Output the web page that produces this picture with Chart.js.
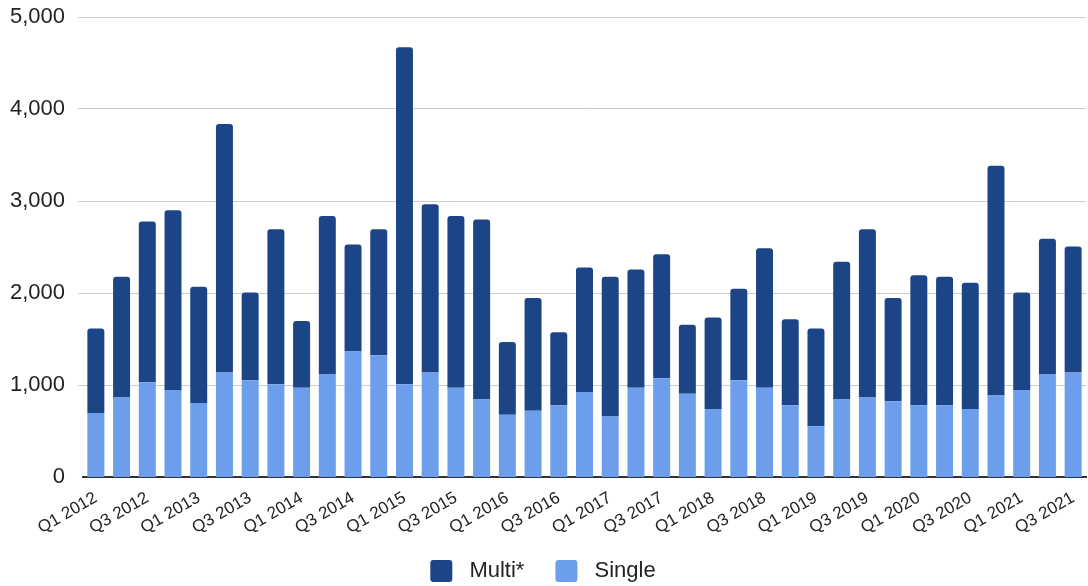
<!DOCTYPE html>
<html>
<head>
<meta charset="utf-8">
<script src="https://cdn.jsdelivr.net/npm/chart.js@4/dist/chart.umd.min.js"></script>
<style>
  html, body { margin: 0; padding: 0; background: #fff; }
  #wrap { width: 1088px; height: 586px; }
</style>
</head>
<body>
<div id="wrap"><canvas id="c" width="1088" height="586"></canvas></div>
<script>
// Quarterly categories
const quarters = [
  'Q1 2012','Q2 2012','Q3 2012','Q4 2012',
  'Q1 2013','Q2 2013','Q3 2013','Q4 2013',
  'Q1 2014','Q2 2014','Q3 2014','Q4 2014',
  'Q1 2015','Q2 2015','Q3 2015','Q4 2015',
  'Q1 2016','Q2 2016','Q3 2016','Q4 2016',
  'Q1 2017','Q2 2017','Q3 2017','Q4 2017',
  'Q1 2018','Q2 2018','Q3 2018','Q4 2018',
  'Q1 2019','Q2 2019','Q3 2019','Q4 2019',
  'Q1 2020','Q2 2020','Q3 2020','Q4 2020',
  'Q1 2021','Q2 2021','Q3 2021'
];

// Single-family values (bottom of each stack)
const singleValues = [
  697, 864, 1030, 947,
  803, 1135, 1052, 1009,
  969, 1114, 1363, 1323,
  1009, 1135, 969, 843,
  676, 719, 781, 925,
  658, 969, 1074, 904,
  738, 1052, 969, 781,
  553, 843, 864, 824,
  781, 781, 738, 886,
  947, 1114, 1135
];

// Multi-family values (stacked on top)
const multiValues = [
  916, 1313, 1747, 1952,
  1265, 2701, 954, 1684,
  726, 1724, 1164, 1370,
  3662, 1829, 1869, 1955,
  792, 1226, 792, 1353,
  1519, 1287, 1348, 752,
  997, 995, 1518, 933,
  1060, 1496, 1829, 1121,
  1413, 1396, 1374, 2498,
  1059, 1475, 1370
];

// Value axis ticks
const yTicks = [0, 1000, 2000, 3000, 4000, 5000];

const textColor = '#222222';
const fontFamily = '"Liberation Sans", Arial, sans-serif';

// Let the rotated quarter labels run past the axis box into the legend band
const labelRoom = {
  id: 'labelRoom',
  afterLayout(chart) {
    chart.scales.x.bottom = chart.height;
  }
};

new Chart(document.getElementById('c'), {
  type: 'bar',
  data: {
    labels: quarters,
    datasets: [
      {
        label: 'Single',
        data: singleValues,
        backgroundColor: '#6d9eeb',
        borderWidth: 0,
        categoryPercentage: 1,
        barPercentage: 0.66
      },
      {
        label: 'Multi*',
        data: multiValues,
        backgroundColor: '#1c4587',
        borderWidth: 0,
        borderRadius: { topLeft: 3, topRight: 3, bottomLeft: 0, bottomRight: 0 },
        borderSkipped: false,
        categoryPercentage: 1,
        barPercentage: 0.66
      }
    ]
  },
  plugins: [labelRoom],
  options: {
    responsive: false,
    devicePixelRatio: 1,
    animation: false,
    layout: { padding: { top: 17, right: 2, left: 0, bottom: -6 } },
    plugins: {
      tooltip: { enabled: false },
      legend: {
        position: 'bottom',
        reverse: true,
        labels: {
          boxWidth: 22,
          boxHeight: 22,
          padding: 31,
          useBorderRadius: true,
          borderRadius: 3,
          color: textColor,
          font: { family: fontFamily, size: 22 },
          generateLabels(chart) {
            const items = Chart.defaults.plugins.legend.labels.generateLabels(chart);
            return items.map(it => Object.assign(it, { text: ' ' + it.text, lineWidth: 0 }));
          }
        }
      }
    },
    scales: {
      x: {
        stacked: true,
        grid: { display: false },
        border: { display: true, color: '#333333', width: 2 },
        ticks: {
          autoSkip: false,
          maxRotation: 30,
          minRotation: 30,
          color: textColor,
          font: { family: fontFamily, size: 17 },
          callback(value, index) {
            return index % 2 === 0 ? quarters[index] : '';
          }
        },
        afterFit(scale) { scale.height = 52; }
      },
      y: {
        stacked: true,
        min: 0,
        max: 5000,
        afterBuildTicks(scale) {
          scale.ticks = yTicks.map(v => ({ value: v }));
        },
        grid: {
          color: ctx => ctx.tick && ctx.tick.value === 0 ? '#333333' : '#cccccc',
          lineWidth: ctx => ctx.tick && ctx.tick.value === 0 ? 0 : 1,
          tickLength: 5,
          drawTicks: true
        },
        border: { display: false },
        ticks: {
          padding: 13,
          color: textColor,
          font: { family: fontFamily, size: 22 },
          callback(value) { return value.toLocaleString('en-US'); }
        },
        afterFit(scale) {
          scale.width = 83;
          scale.paddingTop = 0;
          scale.paddingBottom = 0;
        }
      }
    }
  }
});
</script>
</body>
</html>
